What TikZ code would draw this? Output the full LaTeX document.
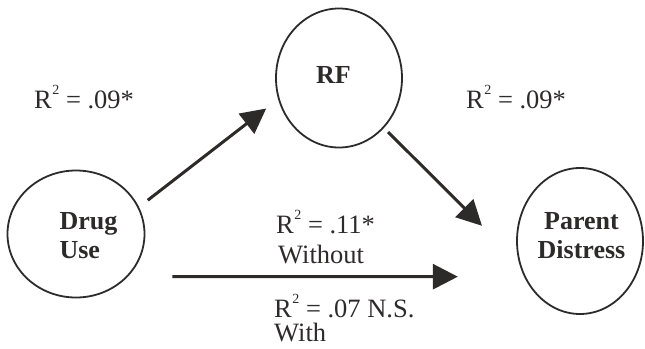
\documentclass[tikz,border=0pt]{standalone}
\usepackage{fontspec}
\setmainfont{Liberation Serif}
\usepackage{tikz}
\usetikzlibrary{arrows.meta, shapes.geometric}
\definecolor{ink}{RGB}{45,42,42}
\newcommand{\rsq}{R\raisebox{0.5em}{\fontsize{14}{14}\selectfont\kern0.5pt 2}}

\begin{document}
\begin{tikzpicture}[x=1pt, y=-1pt,
  blob/.style={ellipse, draw=ink, line width=1.8pt, outer sep=0pt, inner sep=0pt},
  title/.style={text=ink, font=\fontsize{26}{29}\selectfont\bfseries, align=left, inner sep=0pt},
  stat/.style={text=ink, font=\fontsize{26.5}{29}\selectfont, anchor=base west, inner sep=0pt},
  path arrow/.style={draw=ink, line width=3pt, -{Triangle[length=25pt, width=25pt]}}]
\useasboundingbox (0,0) rectangle (645,348);
\node[blob, minimum width=137pt, minimum height=127pt] (drug) at (76,234) {};
\node[blob, minimum width=126pt, minimum height=139pt] (rf) at (339,78) {};
\node[blob, minimum width=126pt, minimum height=146pt] (parent) at (580,241) {};
\node[title] (drugtext) at (88.5,236) {Drug\\Use};
\node[title] (rftext) at (333.5,75) {RF};
\node[title, align=center] (parenttext) at (581.5,236) {Parent\\Distress};
% the three paths of the mediation model
\draw[path arrow, shorten <=12pt, shorten >=16pt] (drug.23) -- (rf.199);
\draw[path arrow, shorten <=6.6pt, shorten >=54pt] (rf.-48) -- (parent.201);
\draw[path arrow, shorten <=45.6pt, shorten >=67.2pt] (drug.-40.5) -- (parent.213.3);
\node[stat] (r2left) at (34,108) {\rsq{} = .09*};
\node[stat] (r2right) at (466,108) {\rsq{} = .09*};
\node[stat] (r2without) at (276,233) {\rsq{} = .11*};
\node[stat] (without) at (278,263) {Without};
\node[stat] (r2with) at (274,317) {\rsq{} = .07 N.S.};
\node[stat] (with) at (274,341) {With};
\end{tikzpicture}
\end{document}
